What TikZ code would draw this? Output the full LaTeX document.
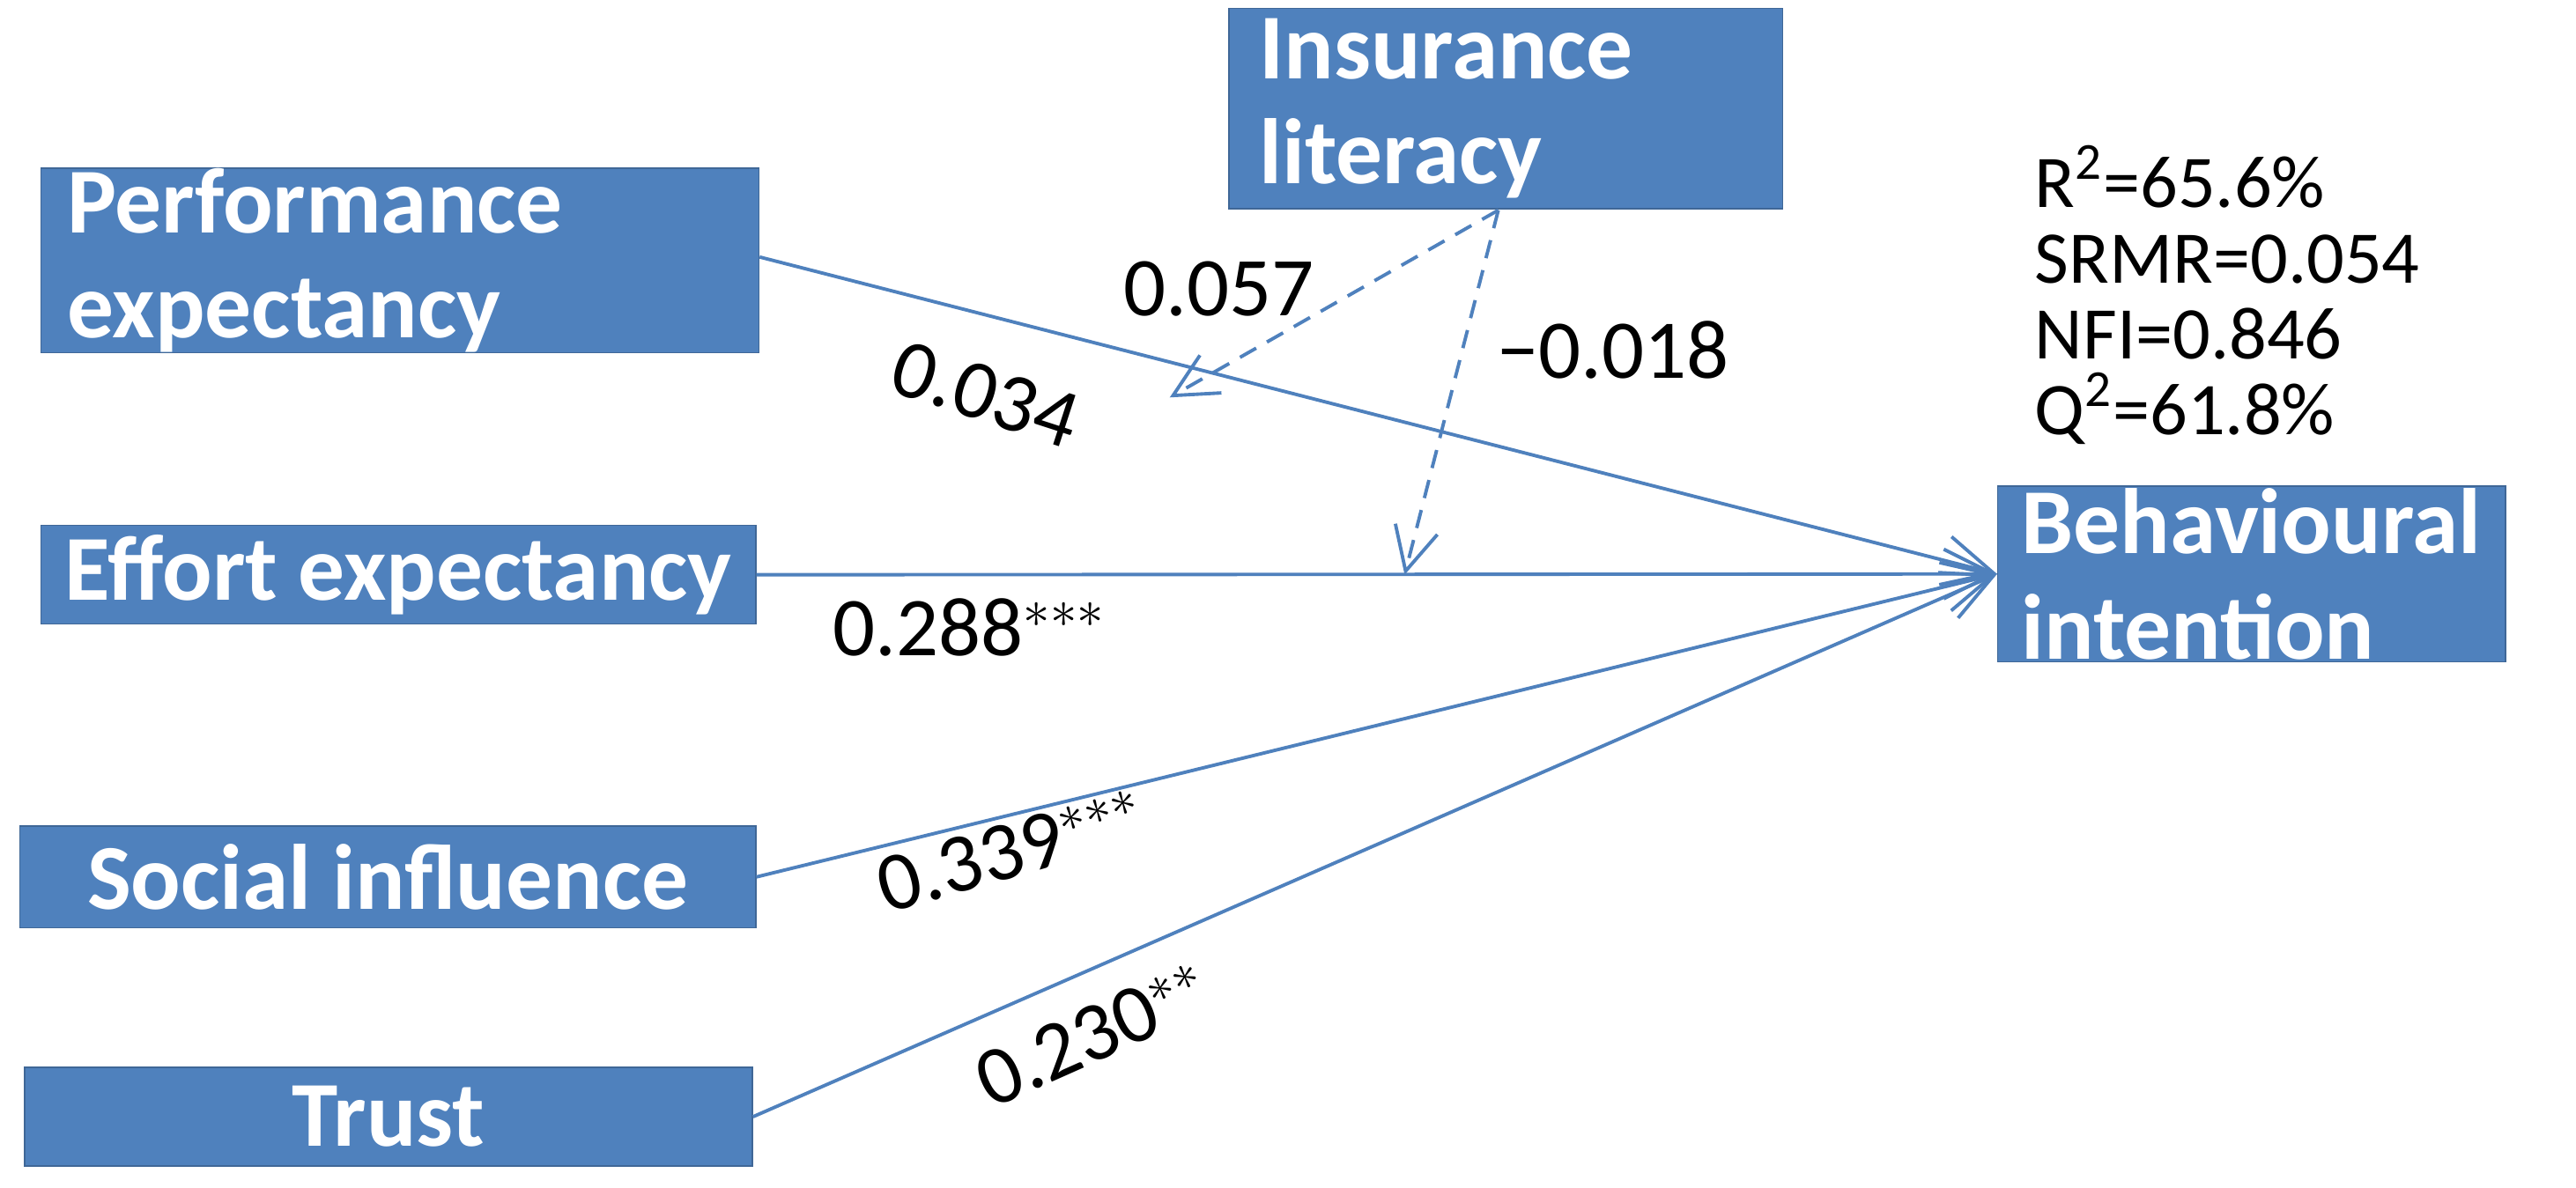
\documentclass[tikz,border=0pt]{standalone}
\usepackage{fontspec}
\setmainfont{Carlito}
\usetikzlibrary{arrows.meta}
\definecolor{bx}{HTML}{4F81BD}
\begin{document}
\begin{tikzpicture}[x=0.01865cm,y=-0.01865cm,
 box/.style={draw=bx!80!black,fill=bx,text=white,font=\fontsize{30}{34}\selectfont\bfseries,inner sep=0pt},
 ln/.style={bx,line width=1.1pt,-{Straight Barb[length=16pt,width=16pt]}},
 dl/.style={bx,line width=1.1pt,dash pattern=on 6pt off 4pt,-{Straight Barb[length=14pt,width=14pt]}},
 lb/.style={font=\fontsize{27}{30}\selectfont}]
\useasboundingbox (0,0) rectangle (1568,723);
\fill[white] (0,0) rectangle (1568,723);
\node[box,minimum width={437*0.01865cm},minimum height={107*0.01865cm},align=left,text width={405*0.01865cm}] (pe) at (243.5,158.5) {Performance\\expectancy};
\node[box,minimum width={435*0.01865cm},minimum height={60*0.01865cm}] (ee) at (242.5,350) {Effort expectancy};
\node[box,minimum width={448*0.01865cm},minimum height={62*0.01865cm}] (si) at (236,534) {Social influence};
\node[box,minimum width={443*0.01865cm},minimum height={60*0.01865cm}] (tr) at (236.5,680) {Trust};
\node[box,minimum width={337*0.01865cm},minimum height={122*0.01865cm},align=left,text width={300*0.01865cm}] (il) at (916.5,66) {Insurance\\literacy};
\node[box,minimum width={309*0.01865cm},minimum height={107*0.01865cm},align=left,text width={280*0.01865cm}] (bi) at (1370.5,349.5) {Behavioural\\intention};
\coordinate (ils) at (912,128);
\coordinate (m1) at (712,242);
\coordinate (m2) at (855,350);
\draw[ln] (pe.east) ++(0,-2) -- (bi.west);
\draw[ln] (ee.east) -- (bi.west);
\draw[ln] (si.east) -- (bi.west);
\draw[ln] (tr.east) -- (bi.west);
\draw[dl] (ils) -- (m1);
\draw[dl] (ils) -- (m2);
\node[lb] (l1) at (742,176) {0.057};
\node[lb,rotate=-18] (l2) at (600,240) {0.034};
\node[lb] (l3) at (982,213) {\textminus0.018};
\node[lb] (l4) at (590,382) {0.288$^{***}$};
\node[lb,rotate=16] (l5) at (615,518) {0.339$^{***}$};
\node[lb,rotate=24] (l6) at (665,630) {0.230$^{**}$};
\node[lb,align=left,anchor=north west,font=\fontsize{24}{24.5}\selectfont] (st) at (1232,82) {R\textsuperscript{2}=65.6\%\\SRMR=0.054\\NFI=0.846\\Q\textsuperscript{2}=61.8\%};
\end{tikzpicture}
\end{document}
